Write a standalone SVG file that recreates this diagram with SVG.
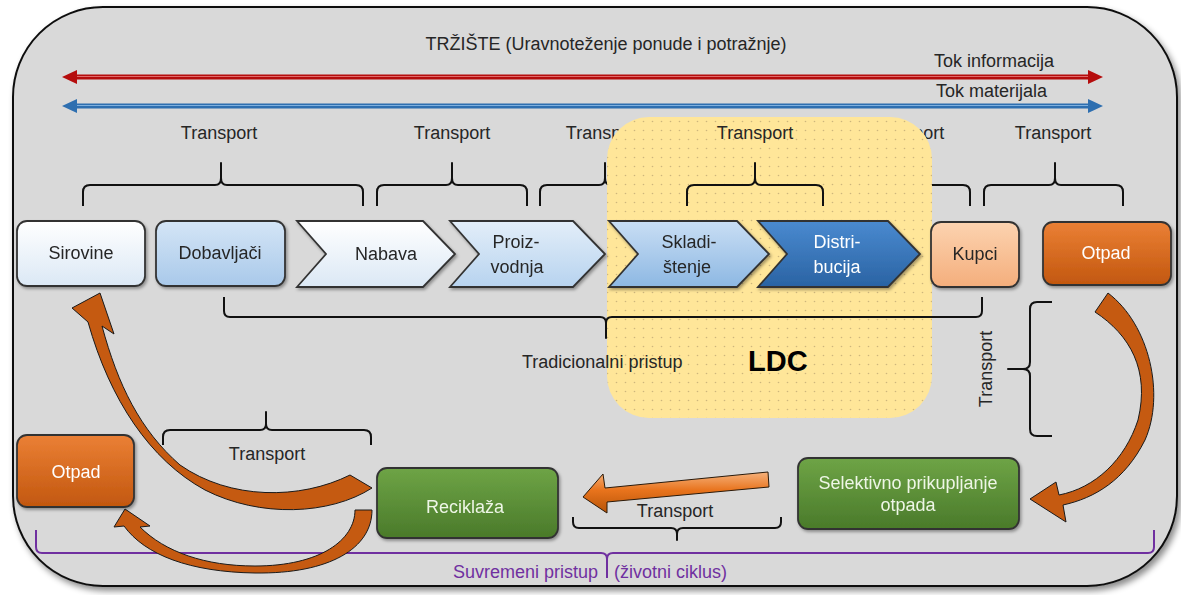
<svg xmlns="http://www.w3.org/2000/svg" width="1181" height="595" viewBox="0 0 1181 595">
<style>
text{font-family:"Liberation Sans",Arial,sans-serif;font-size:18px;fill:#262626}
.c{text-anchor:middle}
.w{fill:#ffffff}
.g{fill:#eef6e6}
.br{fill:none;stroke:#111;stroke-width:2;stroke-linejoin:round}
.nd{stroke:#333;stroke-width:1.8}
.oa{fill:#c55a11;stroke:#1a1a1a;stroke-width:1}
</style>
<defs>
<filter id="bgsh" x="-5%" y="-5%" width="110%" height="112%"><feDropShadow dx="3" dy="4" stdDeviation="3" flood-color="#000" flood-opacity="0.45"/></filter>
<filter id="sh" x="-10%" y="-15%" width="125%" height="140%"><feDropShadow dx="1.5" dy="2" stdDeviation="1.5" flood-color="#000" flood-opacity="0.35"/></filter>
<linearGradient id="gWhite" x1="0" y1="0" x2="0" y2="1"><stop offset="0" stop-color="#ffffff"/><stop offset="1" stop-color="#dbe8f5"/></linearGradient>
<linearGradient id="gLb" x1="0" y1="0" x2="0" y2="1"><stop offset="0" stop-color="#d4e5f6"/><stop offset="1" stop-color="#a9c9ea"/></linearGradient>
<linearGradient id="gPr" x1="0" y1="0" x2="0" y2="1"><stop offset="0" stop-color="#e3eef9"/><stop offset="1" stop-color="#b7d3ef"/></linearGradient>
<linearGradient id="gSk" x1="0" y1="0" x2="0" y2="1"><stop offset="0" stop-color="#c9def4"/><stop offset="1" stop-color="#8db8e3"/></linearGradient>
<linearGradient id="gDi" x1="0" y1="0" x2="0" y2="1"><stop offset="0" stop-color="#4a8ad0"/><stop offset="1" stop-color="#2a63a3"/></linearGradient>
<linearGradient id="gKu" x1="0" y1="0" x2="0" y2="1"><stop offset="0" stop-color="#fcd3b0"/><stop offset="1" stop-color="#f4ae7c"/></linearGradient>
<linearGradient id="gOt" x1="0" y1="0" x2="0" y2="1"><stop offset="0" stop-color="#eb8035"/><stop offset="1" stop-color="#c2570f"/></linearGradient>
<linearGradient id="gGr" x1="0" y1="0" x2="0" y2="1"><stop offset="0" stop-color="#6ea446"/><stop offset="1" stop-color="#4a7a2a"/></linearGradient>
<linearGradient id="gArr" x1="0" y1="0" x2="0" y2="1"><stop offset="0" stop-color="#f6b27c"/><stop offset="0.45" stop-color="#e8731c"/><stop offset="1" stop-color="#b65408"/></linearGradient>
<pattern id="dots" width="9" height="9" patternUnits="userSpaceOnUse"><rect width="9" height="9" fill="#ffe699"/><circle cx="4.5" cy="4.5" r="0.8" fill="#b8a270" opacity="0.7"/></pattern>
</defs>

<g id="background">
<rect x="13" y="7" width="1164" height="579" rx="90" ry="90" fill="#d9d9d9" stroke="#111" stroke-width="2" filter="url(#bgsh)"/>
</g>

<g id="title">
<text class="c" x="606" y="50">TRŽIŠTE (Uravnoteženje ponude i potražnje)</text>
</g>

<g id="hidden-transport">
<path class="br" d="M540 206V192Q540 185 547 185H599Q605 185 605 178V163V178Q605 185 611 185H663Q670 185 670 192V206"/>
<text class="c" x="604" y="139">Transport</text>
<path class="br" d="M845 206V192Q845 185 852 185H900Q906 185 906 178V163V178Q906 185 912 185H963Q970 185 970 192V206"/>
<text class="c" x="906" y="139">Transport</text>
</g>

<g id="ldc">
<rect x="607" y="117" width="325" height="301" rx="42" ry="42" fill="url(#dots)"/>
<text x="748" y="371" style="font-weight:bold;font-size:29px;fill:#000">LDC</text>
</g>

<g id="flows">
<line x1="74" y1="77" x2="1091" y2="77" stroke="#b50d0d" stroke-width="5"/>
<line x1="74" y1="76.5" x2="1091" y2="76.5" stroke="#e06a6a" stroke-width="1.2"/>
<polygon points="62,77 77,70 77,84" fill="#b50d0d"/>
<polygon points="1103,77 1088,70 1088,84" fill="#b50d0d"/>
<line x1="74" y1="106" x2="1091" y2="106" stroke="#2e6fb0" stroke-width="5"/>
<line x1="74" y1="105.5" x2="1091" y2="105.5" stroke="#7fb0de" stroke-width="1.2"/>
<polygon points="62,106 77,99 77,113" fill="#2e6fb0"/>
<polygon points="1103,106 1088,99 1088,113" fill="#2e6fb0"/>
<text x="934" y="67">Tok informacija</text>
<text x="936" y="97">Tok materijala</text>
</g>

<g id="connectors">
<path class="br" d="M83 206V192Q83 185 90 185H215Q221 185 221 178V163V178Q221 185 227 185H356Q363 185 363 192V206"/>
<text class="c" x="219" y="139">Transport</text>
<path class="br" d="M377 206V192Q377 185 384 185H446Q452 185 452 178V163V178Q452 185 458 185H520Q527 185 527 192V206"/>
<text class="c" x="452" y="139">Transport</text>
<path class="br" d="M687 206V192Q687 185 694 185H749Q755 185 755 178V163V178Q755 185 761 185H816Q823 185 823 192V206"/>
<text class="c" x="755" y="139">Transport</text>
<path class="br" d="M984 206V192Q984 185 991 185H1049Q1055 185 1055 178V163V178Q1055 185 1061 185H1116Q1123 185 1123 192V206"/>
<text class="c" x="1053" y="139">Transport</text>
<path class="br" d="M224 297V311Q224 317 230 317H600Q606 317 606 323V338V323Q606 317 612 317H976Q982 317 982 311V297"/>
<text x="522" y="368">Tradicionalni pristup</text>
<path class="br" d="M1052 302H1037Q1030 302 1030 309V362Q1030 369 1023 369H1008H1023Q1030 369 1030 376V429Q1030 436 1037 436H1052"/>
<text class="c" transform="translate(992 369) rotate(-90)">Transport</text>
<path class="br" d="M163 445V437Q163 430 170 430H260Q266 430 266 424V412V424Q266 430 272 430H364Q371 430 371 437V445"/>
<text class="c" x="267" y="460">Transport</text>
<path class="br" d="M573 517V522Q573 528 579 528H671Q677 528 677 534V540V534Q677 528 683 528H775Q781 528 781 522V517"/>
<text class="c" x="675" y="517">Transport</text>
<path d="M36 530V547Q36 553 42 553H601Q607 553 607 559V578V559Q607 553 613 553H1148Q1154 553 1154 547V530" fill="none" stroke="#7030a0" stroke-width="2"/>
<text x="598" y="578" style="fill:#7030a0;text-anchor:end">Suvremeni pristup</text>
<text x="614" y="578" style="fill:#7030a0">(životni ciklus)</text>
<path class="oa" d="M350 475L372 488C330 515 260 518 205 490C150 460 110 400 88 322L72 308L100 293L114 334L102 326C118 385 140 430 180 465C230 500 300 500 350 475Z"/>
<path class="oa" d="M355 510L372 510C372 548 330 574 255 573C190 572 145 555 124 526L114 527L125 509L150 526L140 527C165 552 205 566 255 566C320 566 355 540 355 510Z"/>
<path class="oa" d="M1095 312L1108 293C1150 325 1165 395 1145 440C1125 480 1095 498 1063 505L1066 522L1030 499L1056 482L1059 495C1095 488 1125 460 1138 420C1150 370 1130 335 1095 312Z"/>
<polygon points="768,472 605,488 603,474 583,497 607,513 607,502 769,487" fill="url(#gArr)" stroke="#2a1a0a" stroke-width="1"/>
</g>

<g id="sirovine" filter="url(#sh)">
<rect class="nd" x="17" y="221" width="128" height="65" rx="10" fill="url(#gWhite)"/>
<text class="c" x="81" y="259">Sirovine</text>
</g>
<g id="dobavljaci" filter="url(#sh)">
<rect class="nd" x="156" y="221" width="129" height="65" rx="10" fill="url(#gLb)"/>
<text class="c" x="220" y="259">Dobavljači</text>
</g>
<g id="nabava" filter="url(#sh)">
<path class="nd" d="M297 221H423L455 254L423 287H297L326 254Z" fill="url(#gWhite)"/>
<text class="c" x="386" y="260">Nabava</text>
</g>
<g id="proizvodnja" filter="url(#sh)">
<path class="nd" d="M450 221H573L605 254L573 287H450L479 254Z" fill="url(#gPr)"/>
<text class="c" x="516" y="248">Proiz-</text>
<text class="c" x="517" y="273">vodnja</text>
</g>
<g id="skladistenje" filter="url(#sh)">
<path class="nd" d="M609 221H737L769 254L737 287H609L638 254Z" fill="url(#gSk)"/>
<text class="c" x="689" y="248">Skladi-</text>
<text class="c" x="687" y="273">štenje</text>
</g>
<g id="distribucija" filter="url(#sh)">
<path class="nd" d="M758 221H888L920 254L888 287H758L787 254Z" fill="url(#gDi)"/>
<text class="c w" x="837" y="248">Distri-</text>
<text class="c w" x="837" y="273">bucija</text>
</g>
<g id="kupci" filter="url(#sh)">
<rect class="nd" x="931" y="222" width="88" height="65" rx="10" fill="url(#gKu)"/>
<text class="c" x="975" y="260">Kupci</text>
</g>
<g id="otpad-right" filter="url(#sh)">
<rect class="nd" x="1043" y="222" width="128" height="63" rx="10" fill="url(#gOt)"/>
<text class="c w" x="1106" y="259">Otpad</text>
</g>
<g id="otpad-left" filter="url(#sh)">
<rect class="nd" x="17" y="435" width="117" height="72" rx="10" fill="url(#gOt)"/>
<text class="c w" x="76" y="478">Otpad</text>
</g>
<g id="reciklaza" filter="url(#sh)">
<rect class="nd" x="377" y="468" width="181" height="70" rx="10" fill="url(#gGr)"/>
<text class="c g" x="465" y="513">Reciklaža</text>
</g>
<g id="selektivno" filter="url(#sh)">
<rect class="nd" x="798" y="458" width="221" height="71" rx="10" fill="url(#gGr)"/>
<text class="c g" x="908" y="489">Selektivno prikupljanje</text>
<text class="c g" x="908" y="511">otpada</text>
</g>
</svg>
